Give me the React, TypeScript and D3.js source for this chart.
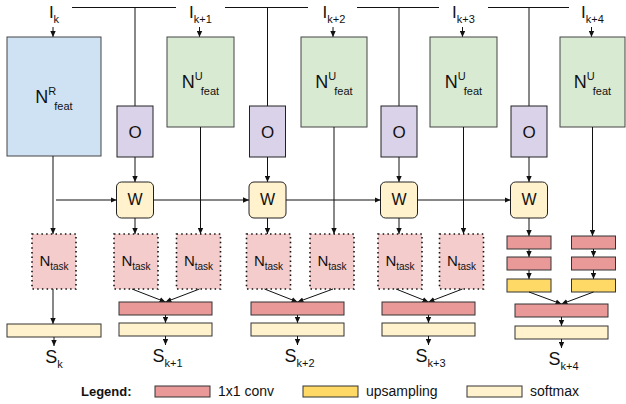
import React from "react";
import * as d3 from "d3";

// ---- data ----
const stepLabels = ["k", "k+1", "k+2", "k+3", "k+4"];
const featSup = ["R", "U", "U", "U", "U"];
const legendLabels = ["1x1 conv", "upsampling", "softmax"];
const legendColors = ["#ea9999", "#ffd966", "#fff2cc"];

// ---- layout ----
const W = 626, H = 404;
const FONT = "'Liberation Sans', Arial, sans-serif";
const featX = [54, 200.5, 334, 463.5, 592.5]; // centers of N_feat boxes
const featW = [94, 67, 66, 67, 65];
const oX = [135, 267.5, 399, 529]; // O / W column centers
const barX = [54, 165.5, 297.5, 428.5, 561.5];
const topY = 7.5;
const featTop = 37, featBotR = 156, featBotU = 127;
const oTop = 106, oBot = 157;
const wTop = 182, wBot = 218;
const taskTop = 234, taskBot = 289;
const C = { conv: "#ea9999", up: "#ffd966", soft: "#fff2cc" };
const stroke = "#333";

const line = d3.line<[number, number]>();

function Arrow({ pts }: { pts: [number, number][] }) {
  return <path d={line(pts) || ""} stroke="#111" strokeWidth={1} fill="none" markerEnd="url(#ah)" />;
}
function Line({ pts }: { pts: [number, number][] }) {
  return <path d={line(pts) || ""} stroke="#111" strokeWidth={1} fill="none" />;
}

function Bar({ cx, y, w, h, fill }: { cx: number; y: number; w: number; h: number; fill: string }) {
  return <rect x={cx - w / 2} y={y} width={w} height={h} fill={fill} stroke={stroke} strokeWidth={1} />;
}

function Task({ cx }: { cx: number }) {
  return (
    <g>
      <rect x={cx - 22} y={taskTop} width={44} height={taskBot - taskTop} fill="#f4cccc" stroke="#111"
        strokeWidth={1.6} strokeDasharray="1.5,3.2" />
      <text x={cx} y={266} textAnchor="middle" fontFamily={FONT} fontSize={15} fill="#111">
        N<tspan dy={4} fontSize={10}>task</tspan>
      </text>
    </g>
  );
}

export default function App() {
  const sx = d3.scaleLinear().domain([0, 1]).range([0, 1]);
  // top line segments (broken by labels)
  const gaps = [200, 332, 463];
  const segs: [number, number][] = [];
  let start = 72;
  gaps.forEach((g) => { segs.push([start, g - 24]); start = g + 25; });
  segs.push([start, 569]);

  return (
    <svg width={W} height={H} style={{ position: "fixed", left: 0, top: 0, background: "#fff" }}>
      <defs>
        <marker id="ah" viewBox="0 0 6 6" refX={6} refY={3} markerWidth={6} markerHeight={6}
          markerUnits="userSpaceOnUse" orient="auto">
          <path d="M0,0.3 L6,3 L0,5.7 z" fill="#111" />
        </marker>
      </defs>
      <rect width={W} height={H} fill="#fff" />

      {/* top line */}
      {segs.map((s, i) => <Line key={"s" + i} pts={[[sx(s[0]), topY], [sx(s[1]), topY]]} />)}
      {oX.map((x, i) => <Line key={"ov" + i} pts={[[x, topY], [x, oTop]]} />)}

      {/* input labels and arrows */}
      {stepLabels.map((l, i) => (
        <g key={"in" + i}>
          <text x={featX[i]} y={18} textAnchor="middle" fontFamily={FONT} fontSize={17} fill="#111">
            I<tspan dy={5} fontSize={11}>{l}</tspan>
          </text>
          <Arrow pts={[[featX[i] - 1, 27], [featX[i] - 1, featTop]]} />
        </g>
      ))}

      {/* N_feat boxes */}
      {featSup.map((s, i) => {
        const bot = i === 0 ? featBotR : featBotU;
        const cy = (featTop + bot) / 2;
        return (
          <g key={"f" + i}>
            <rect x={featX[i] - featW[i] / 2} y={featTop} width={featW[i]} height={bot - featTop}
              fill={i === 0 ? "#cfe2f3" : "#d9ead3"} stroke="#444" strokeWidth={1} />
            <text x={featX[i]} y={cy + 6} textAnchor="middle" fontFamily={FONT} fontSize={18} fill="#111">
              N<tspan dy={-8} fontSize={11}>{s}</tspan>
              <tspan dy={15} dx={-2} fontSize={11}>feat</tspan>
            </text>
          </g>
        );
      })}

      {/* O boxes, W boxes */}
      {oX.map((x, i) => (
        <g key={"o" + i}>
          <rect x={x - 18} y={oTop} width={36} height={oBot - oTop} fill="#d9d2e9" stroke="#222" strokeWidth={1} />
          <text x={x} y={138} textAnchor="middle" fontFamily={FONT} fontSize={17} fill="#111">O</text>
          <Arrow pts={[[x, oBot], [x, wTop]]} />
          <rect x={x - 18.5} y={wTop} width={37} height={wBot - wTop} rx={5} fill="#fff2cc" stroke="#222" strokeWidth={1} />
          <text x={x} y={205} textAnchor="middle" fontFamily={FONT} fontSize={16} fill="#111">W</text>
        </g>
      ))}

      {/* W chain */}
      <Arrow pts={[[56, 200], [oX[0] - 18.5, 200]]} />
      {oX.slice(1).map((x, i) => <Arrow key={"wc" + i} pts={[[oX[i] + 18.5, 200], [x - 18.5, 200]]} />)}

      {/* column 0 */}
      <Arrow pts={[[featX[0] - 1, featBotR], [featX[0] - 1, taskTop]]} />
      <Task cx={featX[0]} />
      <Arrow pts={[[featX[0] - 1, taskBot], [featX[0] - 1, 324]]} />

      {/* columns 1..3 */}
      {[1, 2, 3].map((c) => {
        const t1 = oX[c - 1] + 1;
        const t2 = featX[c] - 2;
        const bx = barX[c];
        return (
          <g key={"c" + c}>
            <Arrow pts={[[oX[c - 1], wBot], [oX[c - 1], taskTop]]} />
            <Arrow pts={[[featX[c], featBotU], [featX[c], taskTop]]} />
            <Task cx={t1} />
            <Task cx={t2} />
            <Arrow pts={[[t1 - 4, taskBot], [bx, 302]]} />
            <Arrow pts={[[t2 + 1, taskBot], [bx, 302]]} />
            <Bar cx={bx} y={302} w={93} h={13} fill={C.conv} />
            <Arrow pts={[[bx, 315], [bx, 323]]} />
          </g>
        );
      })}

      {/* column 4 */}
      {[oX[3], featX[4] + 1].map((x, j) => (
        <g key={"st" + j}>
          <Arrow pts={[[j === 0 ? x : x - 1, j === 0 ? wBot : featBotU], [j === 0 ? x : x - 1, 236]]} />
          <Bar cx={x} y={236} w={44} h={13} fill={C.conv} />
          <Arrow pts={[[x, 249], [x, 257]]} />
          <Bar cx={x} y={257} w={44} h={13} fill={C.conv} />
          <Arrow pts={[[x, 270], [x, 279]]} />
          <Bar cx={x} y={279} w={44} h={13} fill={C.up} />
          <Arrow pts={[[x, 292], [barX[4], 304]]} />
        </g>
      ))}
      <Bar cx={barX[4]} y={304} w={93} h={13} fill={C.conv} />
      <Arrow pts={[[barX[4], 317], [barX[4], 326]]} />

      {/* softmax bars and outputs */}
      {stepLabels.map((l, i) => {
        const y0 = i === 0 ? 324 : i === 4 ? 326 : 323;
        const bx = barX[i];
        const w = i === 0 ? 94 : 93;
        return (
          <g key={"out" + i}>
            <Bar cx={bx} y={y0} w={w} h={13} fill={C.soft} />
            <Arrow pts={[[bx, y0 + 13], [bx, y0 + 22]]} />
            <text x={bx + (i === 0 ? 0 : 2)} y={y0 + 39} textAnchor="middle" fontFamily={FONT} fontSize={18} fill="#111">
              S<tspan dy={5} fontSize={11}>{l}</tspan>
            </text>
          </g>
        );
      })}

      {/* legend */}
      <text x={81} y={396} fontFamily={FONT} fontSize={13} fontWeight="bold" fill="#111">Legend:</text>
      {legendLabels.map((l, i) => {
        const lx = [155, 303, 467][i];
        return (
          <g key={"lg" + i}>
            <rect x={lx} y={386} width={55} height={11} fill={legendColors[i]} stroke={stroke} strokeWidth={1} />
            <text x={lx + 63} y={396} fontFamily={FONT} fontSize={14} fill="#111">{l}</text>
          </g>
        );
      })}
    </svg>
  );
}
